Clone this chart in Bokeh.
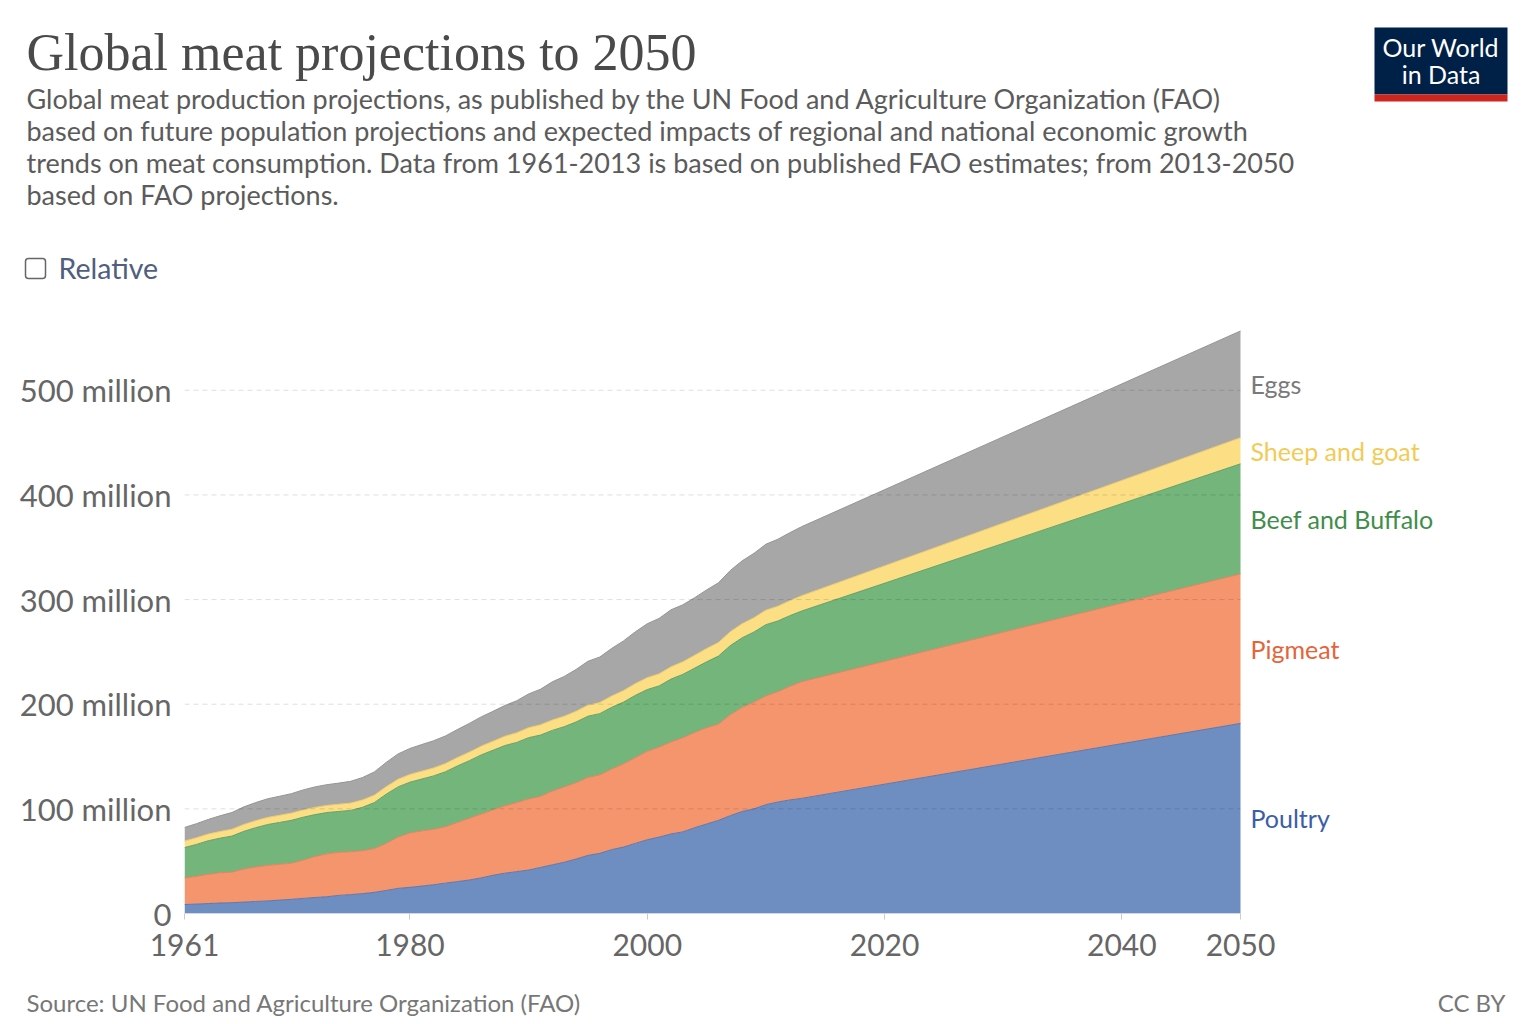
from bokeh.plotting import figure
from bokeh.models import ColumnDataSource, FixedTicker, Range1d
from bokeh.core.properties import value
from bokeh.layouts import column
from bokeh.embed import file_html
from bokeh.resources import INLINE

# ---------------- data (million tonnes) ----------------
years = list(range(1961, 2014)) + [2050]

poultry = [8.6, 9.0, 9.5, 10.0, 10.3, 10.9, 11.5, 12.0, 12.8, 13.5,
           14.4, 15.3, 16.0, 17.3, 18.0, 19.0, 20.2, 22.0, 24.0, 25.0,
           26.2, 27.5, 29.0, 30.5, 32.0, 34.0, 36.5, 38.5, 40.0, 41.5,
           44.0, 46.5, 49.0, 52.0, 55.5, 57.5, 61.0, 63.5, 67.0, 70.5,
           73.0, 76.0, 78.0, 82.0, 85.5, 89.0, 93.5, 97.5, 100.0, 104.0,
           106.5, 108.5, 110.0,
           181.7]
pigmeat = [25.4, 26.5, 28.0, 29.0, 29.2, 31.6, 33.0, 34.0, 34.2, 34.5,
           36.6, 39.2, 41.0, 41.2, 41.0, 41.0, 41.8, 45.0, 49.0, 52.0,
           52.8, 53.0, 54.0, 56.5, 59.0, 61.0, 62.5, 64.5, 66.0, 68.0,
           68.0, 70.5, 72.0, 73.0, 74.5, 75.0, 77.0, 79.5, 82.0, 84.5,
           86.0, 88.0, 90.0, 91.0, 92.0, 92.0, 96.5, 99.5, 102.0, 104.0,
           105.5, 108.5, 111.5,
           142.8]
beef = [29.0, 30.5, 32.0, 33.0, 34.5, 36.0, 37.5, 39.0, 40.0, 41.0,
        41.0, 40.0, 39.5, 39.0, 39.5, 41.5, 44.0, 47.0, 48.0, 48.5,
        49.5, 51.0, 52.5, 54.0, 55.0, 56.5, 57.0, 57.5, 57.5, 58.5,
        58.5, 58.0, 57.5, 58.0, 58.5, 58.5, 59.0, 59.0, 59.5, 59.0,
        58.5, 60.0, 60.5, 61.5, 63.0, 65.0, 66.0, 66.5, 67.0, 68.0,
        67.5, 67.5, 67.5,
        105.2]
sheep = [6.2, 6.3, 6.4, 6.4, 6.5, 6.6, 6.7, 6.8, 6.8, 6.9,
         6.9, 6.9, 6.8, 6.9, 7.0, 7.0, 7.1, 7.2, 7.3, 7.4,
         7.5, 7.6, 7.8, 8.0, 8.2, 8.4, 8.6, 8.9, 9.2, 9.6,
         9.8, 9.9, 10.0, 10.2, 10.5, 10.6, 10.8, 11.0, 11.2, 11.4,
         11.5, 11.7, 12.0, 12.3, 12.7, 13.0, 13.3, 13.5, 13.7, 13.9,
         14.1, 14.3, 14.6,
         25.0]
eggs = [13.0, 13.5, 14.0, 15.0, 16.0, 16.8, 17.3, 17.8, 18.2, 18.6,
        19.2, 19.6, 19.8, 20.2, 20.8, 21.4, 22.2, 23.2, 24.2, 24.8,
        25.5, 26.0, 26.4, 26.8, 27.4, 28.0, 28.6, 29.4, 30.6, 32.2,
        34.0, 36.5, 38.0, 40.0, 42.0, 43.5, 45.5, 47.5, 49.5, 51.5,
        53.0, 54.5, 54.5, 55.0, 56.0, 57.0, 58.5, 60.0, 61.5, 63.0,
        64.0, 65.0, 66.0,
        102.0]

series = ["poultry", "pigmeat", "beef", "sheep", "eggs"]
names = ["Poultry", "Pigmeat", "Beef and Buffalo", "Sheep and goat", "Eggs"]
fill_colors = ["#6E8EC1", "#F4956E", "#73B57B", "#FCDE85", "#A7A7A7"]
edge_colors = ["#5a78ae", "#e2835c", "#61a168", "#eccb6a", "#959595"]
label_colors = ["#3C5EA6", "#E5643A", "#3F8E4B", "#F2CB55", "#7A7A7A"]

x_ticks = [1961, 1980, 2000, 2020, 2040, 2050]
y_ticks = [0, 100, 200, 300, 400, 500]
y_tick_labels = {0: "0", 100: "100 million", 200: "200 million",
                 300: "300 million", 400: "400 million", 500: "500 million"}

title = "Global meat projections to 2050"
subtitle = [
    "Global meat production projections, as published by the UN Food and Agriculture Organization (FAO)",
    "based on future population projections and expected impacts of regional and national economic growth",
    "trends on meat consumption. Data from 1961-2013 is based on published FAO estimates; from 2013-2050",
    "based on FAO projections.",
]
source_note = "Source: UN Food and Agriculture Organization (FAO)"
licence = "CC BY"

LATO = value("Lato")
W = 1524

# ---------------- header (title, subtitle, toggle, logo) ----------------
HH = 308
head = figure(width=W, height=HH, output_backend="svg", toolbar_location=None,
              x_range=Range1d(0, W), y_range=Range1d(HH, 0),
              x_axis_location=None, y_axis_location=None,
              min_border=0, min_border_left=0, min_border_right=0,
              min_border_top=0, min_border_bottom=0)
head.frame_align = False
head.outline_line_color = None
head.grid.visible = False

head.text(x=[26], y=[52], text=[title], text_font=value("Liberation Serif"),
          text_font_size="52px", text_color="#4a4a4a", text_baseline="alphabetic")
head.text(x=[26] * len(subtitle), y=[98 + 32 * i for i in range(len(subtitle))],
          text=subtitle, text_font=LATO, text_font_size="27px",
          text_color="#5b5b5b", text_baseline="alphabetic")
head.quad(left=[25], right=[45], top=[258], bottom=[278], fill_color=None,
          line_color="#666666", line_width=1.5, border_radius=3)
head.text(x=[58], y=[267], text=["Relative"], text_font=LATO, text_font_size="28.5px",
          text_color="#4f5f7d", text_baseline="alphabetic")
head.quad(left=[1374], right=[1507], top=[27], bottom=[94],
          fill_color="#002147", line_color=None)
head.quad(left=[1374], right=[1507], top=[94], bottom=[101],
          fill_color="#CE261E", line_color=None)
head.text(x=[1440.5, 1440.5], y=[46, 73], text=["Our World", "in Data"],
          text_font=LATO, text_font_size="25px", text_color="white",
          text_align="center", text_baseline="alphabetic")

# ---------------- main chart ----------------
source = ColumnDataSource(dict(year=years, poultry=poultry, pigmeat=pigmeat,
                               beef=beef, sheep=sheep, eggs=eggs))

LEFT, X_AT_END = 184, 1240          # pixel positions of first and last year
x_end = years[0] + (years[-1] - years[0]) * (W - LEFT) / (X_AT_END - LEFT)

MH = 668
p = figure(width=W, height=MH, output_backend="svg", toolbar_location=None,
           x_range=Range1d(years[0], x_end), y_range=Range1d(0, 560),
           min_border_left=LEFT, min_border_right=0,
           min_border_top=19, min_border_bottom=63)
p.frame_align = False
p.outline_line_color = None

p.varea_stack(stackers=series, x="year", color=fill_colors, source=source)
p.vline_stack(stackers=series, x="year", color=edge_colors, line_width=1, source=source)

# dashed horizontal grid lines spanning the data years, drawn over the areas
for yt in y_ticks[1:]:
    p.segment(x0=[years[0]], x1=[years[-1]], y0=[yt], y1=[yt], line_color="#000000",
              line_alpha=0.13, line_width=1, line_dash="5 4")
# baseline
p.segment(x0=[years[0]], x1=[years[-1]], y0=[0], y1=[0], line_color="#cccccc", line_width=1)

p.xgrid.grid_line_color = None
p.ygrid.grid_line_color = None

p.xaxis.ticker = FixedTicker(ticks=x_ticks)
p.xaxis.axis_line_color = None
p.xaxis.major_tick_line_color = "#cccccc"
p.xaxis.major_tick_out = 6
p.xaxis.major_tick_in = 0
p.xaxis.minor_tick_line_color = None
p.xaxis.major_label_text_font = "Lato"
p.xaxis.major_label_text_font_size = "30px"
p.xaxis.major_label_text_color = "#666666"
p.xaxis.major_label_standoff = 14

p.yaxis.ticker = FixedTicker(ticks=y_ticks)
p.yaxis.major_label_overrides = y_tick_labels
p.yaxis.axis_line_color = None
p.yaxis.major_tick_line_color = None
p.yaxis.minor_tick_line_color = None
p.yaxis.major_label_text_font = "Lato"
p.yaxis.major_label_text_font_size = "31px"
p.yaxis.major_label_text_color = "#666666"
p.yaxis.major_label_standoff = 7

# series labels at the right end, centred on each layer in the last year
mids, cum = [], 0.0
for key in series:
    v = source.data[key][-1]
    mids.append(cum + v / 2.0)
    cum += v
lab_src = ColumnDataSource(dict(x=[years[-1]] * len(series), y=mids,
                                text=names, color=label_colors))
p.text(x="x", y="y", text="text", text_color="color", source=lab_src,
       x_offset=10, text_font=LATO, text_font_size="25px",
       text_baseline="middle", text_align="left")

# ---------------- footer ----------------
FH = 1024 - HH - MH
foot = figure(width=W, height=FH, output_backend="svg", toolbar_location=None,
              x_range=Range1d(0, W), y_range=Range1d(FH, 0),
              x_axis_location=None, y_axis_location=None,
              min_border=0, min_border_left=0, min_border_right=0,
              min_border_top=0, min_border_bottom=0)
foot.frame_align = False
foot.outline_line_color = None
foot.grid.visible = False
foot.text(x=[26], y=[1002 - HH - MH], text=[source_note], text_font=LATO,
          text_font_size="24px", text_color="#777777", text_baseline="alphabetic")
foot.text(x=[1505], y=[1002 - HH - MH], text=[licence], text_font=LATO,
          text_font_size="24px", text_color="#777777", text_baseline="alphabetic",
          text_align="right")

layout = column(head, p, foot, spacing=0)
open("out.html", "w").write(file_html(layout, INLINE))
